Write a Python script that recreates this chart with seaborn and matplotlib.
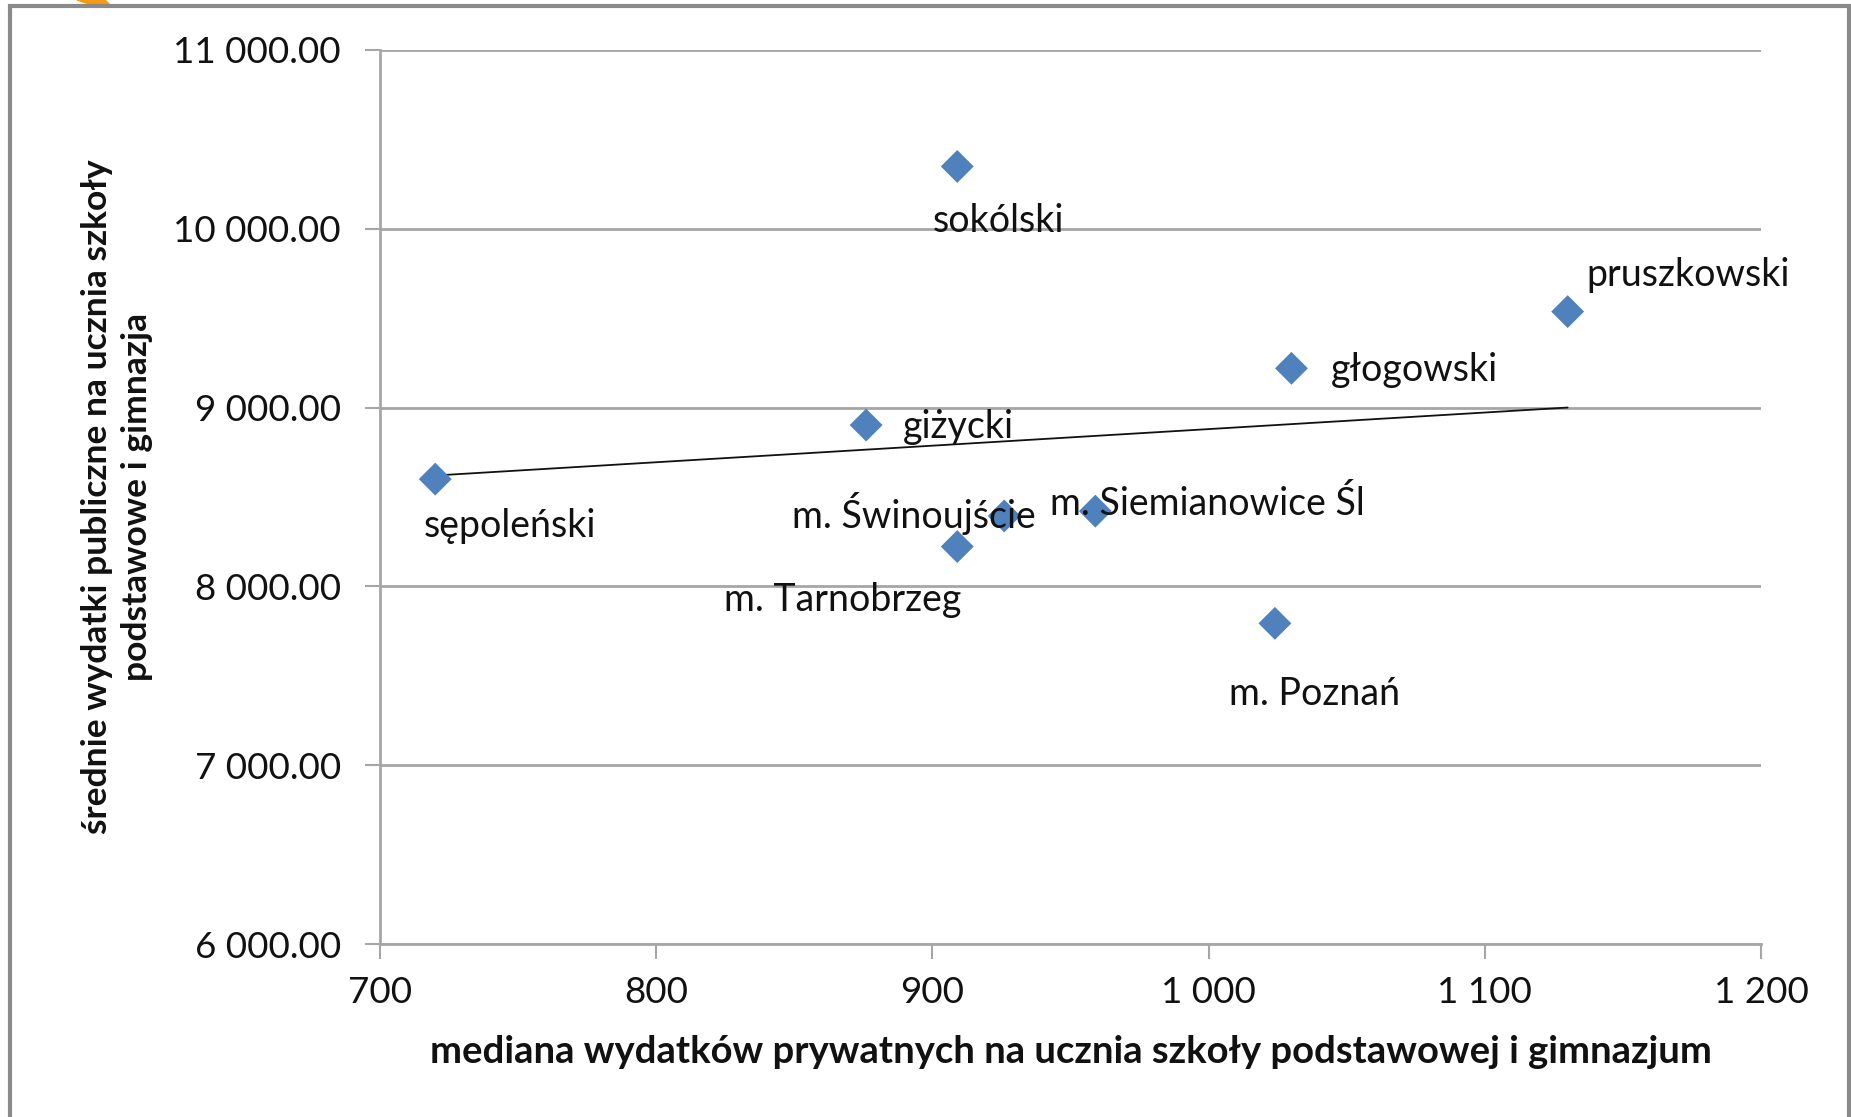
import numpy as np
import pandas as pd
import seaborn as sns
import matplotlib
matplotlib.use("Agg")
import matplotlib.pyplot as plt
from matplotlib.patches import Rectangle, Polygon
from matplotlib.ticker import FuncFormatter, FixedLocator

# ---- data ----
names = ["sępoleński", "giżycki", "sokólski", "m. Tarnobrzeg", "m. Świnoujście",
         "m. Siemianowice Śl", "głogowski", "pruszkowski", "m. Poznań"]
private_median = [720, 876, 909, 909, 926, 959, 1030, 1130, 1024]
public_mean = [8600, 8902, 10347, 8223, 8394, 8421, 9219, 9536, 7794]
x_ticks = [700, 800, 900, 1000, 1100, 1200]
y_ticks = [6000, 7000, 8000, 9000, 10000, 11000]
x_title = "mediana wydatków prywatnych na ucznia szkoły podstawowej i gimnazjum"
y_title = "średnie wydatki publiczne na ucznia szkoły\npodstawowe i gimnazja"

df = pd.DataFrame({"name": names, "x": private_median, "y": public_mean})

# ---- layout (label offsets in pixels: dx, dy(down), ha) ----
label_layout = {
    "sępoleński": (-11, 47, "left"),
    "giżycki": (37, 2, "left"),
    "sokólski": (-25, 55, "left"),
    "m. Tarnobrzeg": (4, 53, "right"),
    "m. Świnoujście": (32, -2, "right"),
    "m. Siemianowice Śl": (-45, -7, "left"),
    "głogowski": (39, 2, "left"),
    "pruszkowski": (19, -37, "left"),
    "m. Poznań": (-46, 71, "left"),
}

sns.set_theme(style="white")
plt.rcParams["font.family"] = ["Lato", "DejaVu Sans"]

W, H = 1851, 1117
fig = plt.figure(figsize=(W / 100, H / 100), dpi=100)
ax = fig.add_axes([380 / W, 1 - 944.4 / H, (1761 - 380) / W, (944.4 - 49.6) / H])

GRID = "#a6a6a6"
BLUE = "#4f81bd"
diamond = [(0, 1), (1, 0), (0, -1), (-1, 0), (0, 1)]

sns.regplot(data=df, x="x", y="y", scatter=False, ci=None, truncate=True,
            line_kws=dict(color="#111111", lw=1.3, zorder=3), ax=ax)
sns.scatterplot(data=df, x="x", y="y", marker=diamond, s=560, color=BLUE,
                edgecolor="none", linewidth=0, zorder=4, ax=ax, legend=False)

px = 72 / 100
for _, r in df.iterrows():
    dx, dy, ha = label_layout[r["name"]]
    ax.annotate(r["name"], (r["x"], r["y"]), xytext=(dx * px, -dy * px),
                textcoords="offset points", ha=ha, va="center",
                fontsize=27, color="#111111", zorder=5)

ax.set_xlim(700, 1200)
ax.set_ylim(6000, 11000)
ax.xaxis.set_major_locator(FixedLocator(x_ticks))
ax.yaxis.set_major_locator(FixedLocator(y_ticks))
ax.xaxis.set_major_formatter(FuncFormatter(lambda v, p: f"{int(v):,}".replace(",", " ")))
ax.yaxis.set_major_formatter(FuncFormatter(lambda v, p: f"{v:,.2f}".replace(",", " ")))
ax.set_xlabel("")
ax.set_ylabel("")

ax.grid(axis="y", color=GRID, lw=2)
ax.grid(axis="x", visible=False)
for s in ["top", "right"]:
    ax.spines[s].set_visible(False)
for s in ["left", "bottom"]:
    ax.spines[s].set_color(GRID)
    ax.spines[s].set_linewidth(2)
ax.tick_params(axis="both", which="major", direction="out", length=11, width=1.5,
               color=GRID, labelsize=26.5, labelcolor="#111111", left=True, bottom=True)
ax.tick_params(axis="y", pad=17)
ax.tick_params(axis="x", pad=12)

fig.text(1071 / W, 1 - 1052 / H, x_title, ha="center", va="center",
         fontsize=27.5, fontweight="bold", color="#111111")
fig.text(117 / W, 1 - 497 / H, y_title, ha="center", va="center", rotation=90,
         multialignment="center", fontsize=25.5, fontweight="bold", color="#111111",
         linespacing=1.3)

# outer frame and small orange mark
fig.patches.append(Rectangle((10 / W, -0.05), (1849 - 10) / W, 1.05 - 6 / H,
                             transform=fig.transFigure, fill=False,
                             edgecolor="#8a8a8a", lw=3, zorder=10))
fig.patches.append(Polygon([(77 / W, 1), (105 / W, 1), (110 / W, 1 - 5 / H), (92 / W, 1 - 5 / H)],
                           closed=True, transform=fig.transFigure, color="#f39c12", zorder=9))

fig.savefig("out.png", dpi=100)
